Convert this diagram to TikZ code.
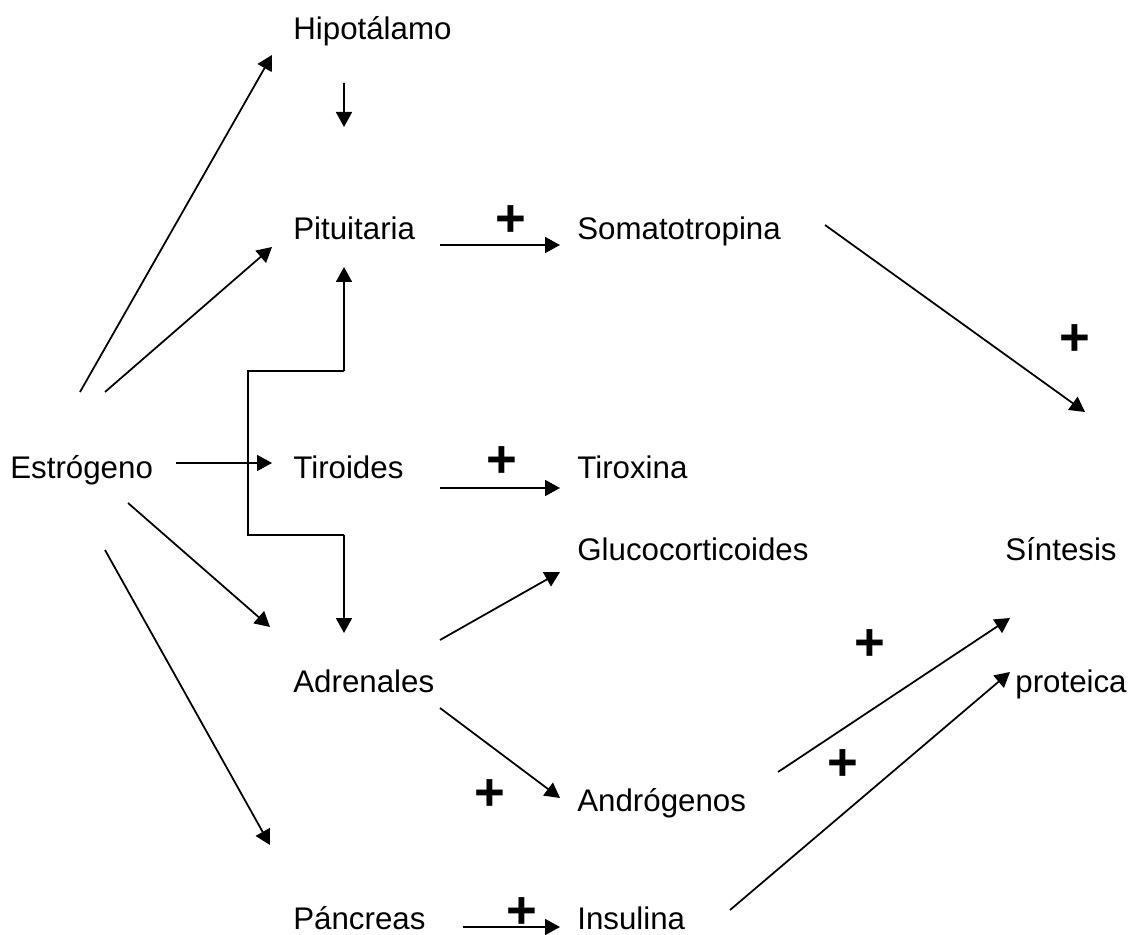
\documentclass[tikz,border=0pt]{standalone}
\usepackage{fontspec}
\setmainfont{Liberation Sans}
\usetikzlibrary{arrows.meta}
\begin{document}
\begin{tikzpicture}[x=0.02cm,y=-0.02cm,
  lbl/.style={anchor=base west,inner sep=0pt,font=\fontsize{17.8}{20}\selectfont},
  pls/.style={inner sep=0pt,font=\fontsize{30}{32}\selectfont},
  arr/.style={line width=1pt,-{Triangle[length=0.3cm,width=0.32cm]}},
  ln/.style={line width=1pt}]
\useasboundingbox (0,0) rectangle (1135,935);
% labels
\node[lbl] (hip) at (293,40) {Hipotálamo};
\node[lbl] (pit) at (293,240) {Pituitaria};
\node[lbl] (som) at (577,240) {Somatotropina};
\node[lbl] (est) at (10,478) {Estrógeno};
\node[lbl] (tir) at (293,478) {Tiroides};
\node[lbl] (tix) at (577,478) {Tiroxina};
\node[lbl] (glu) at (577,560) {Glucocorticoides};
\node[lbl] (sin) at (1005,560) {Síntesis};
\node[lbl] (adr) at (293,692) {Adrenales};
\node[lbl] (pro) at (1015,692) {proteica};
\node[lbl] (and) at (577,811) {Andrógenos};
\node[lbl] (pan) at (293,929) {Páncreas};
\node[lbl] (ins) at (577,929) {Insulina};
% plus signs
\node[pls] (p1) at (511,221) {\textbf{+}};
\node[pls] (p2) at (1075,340) {\textbf{+}};
\node[pls] (p3) at (502,462) {\textbf{+}};
\node[pls] (p4) at (870,645) {\textbf{+}};
\node[pls] (p5) at (490,795) {\textbf{+}};
\node[pls] (p6) at (843,765) {\textbf{+}};
\node[pls] (p7) at (522,913) {\textbf{+}};
% connector end points
\coordinate (hipS) at (344,83);  \coordinate (hipE) at (344,127);
\coordinate (pitA) at (440,245); \coordinate (somW) at (560,245);
\coordinate (somA) at (825,225); \coordinate (somE) at (1085,412);
\coordinate (estA) at (176,463); \coordinate (tirW) at (272,463);
\coordinate (tirA) at (440,488); \coordinate (tixW) at (560,488);
\coordinate (estH) at (80,392);  \coordinate (hipW) at (272,55);
\coordinate (estP) at (105,392); \coordinate (pitW) at (272,247);
\coordinate (estD) at (128,503); \coordinate (adrW) at (270,627);
\coordinate (estQ) at (105,550); \coordinate (panN) at (270,845);
\coordinate (br1) at (344,371); \coordinate (br2) at (248,371);
\coordinate (br3) at (248,535); \coordinate (br4) at (344,535);
\coordinate (pitS) at (344,267); \coordinate (adrN) at (344,633);
\coordinate (adrG) at (440,640); \coordinate (gluW) at (560,572);
\coordinate (adrD) at (440,708); \coordinate (andW) at (560,798);
\coordinate (andE) at (778,772); \coordinate (sinS) at (1010,618);
\coordinate (insE) at (730,910); \coordinate (proS) at (1010,672);
\coordinate (panE) at (463,927); \coordinate (insW) at (560,927);
% connectors
\draw[arr] (hipS) -- (hipE);
\draw[arr] (pitA) -- (somW);
\draw[arr] (somA) -- (somE);
\draw[arr] (estA) -- (tirW);
\draw[arr] (tirA) -- (tixW);
\draw[arr] (estH) -- (hipW);
\draw[arr] (estP) -- (pitW);
\draw[arr] (estD) -- (adrW);
\draw[arr] (estQ) -- (panN);
\draw[arr] (br1) -- (pitS);
\draw[ln] (br1) -- (br2) -- (br3) -- (br4);
\draw[arr] (br4) -- (adrN);
\draw[arr] (adrG) -- (gluW);
\draw[arr] (adrD) -- (andW);
\draw[arr] (andE) -- (sinS);
\draw[arr] (insE) -- (proS);
\draw[arr] (panE) -- (insW);
\end{tikzpicture}
\end{document}
